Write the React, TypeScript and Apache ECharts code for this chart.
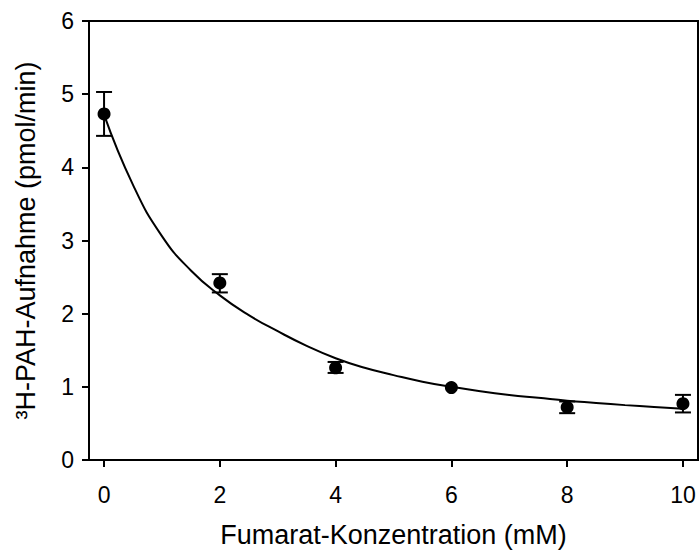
import React, { useEffect, useRef } from "react";
import * as echarts from "echarts";

// Measured data points (mean ± error)
const concX = [0, 2, 4, 6, 8, 10];
const meanY = [4.73, 2.42, 1.26, 0.99, 0.72, 0.77];
const errLow = [4.43, 2.29, 1.19, 0.99, 0.64, 0.65];
const errHigh = [5.03, 2.54, 1.34, 0.99, 0.8, 0.89];

// Fitted curve
const curveX = [0, 0.5, 1, 1.5, 2, 2.5, 3, 3.5, 4, 4.5, 5, 5.5, 6, 6.5, 7, 7.5, 8, 8.5, 9, 9.5, 10];
const curveY = [4.72, 3.76, 3.06, 2.59, 2.25, 1.98, 1.76, 1.56, 1.39, 1.26, 1.16, 1.07, 1.0, 0.94, 0.89, 0.85, 0.81, 0.78, 0.75, 0.725, 0.7];

const xTicks = [0, 2, 4, 6, 8, 10];

const FONT = "Liberation Sans, Arial, sans-serif";

export default function App() {
  const ref = useRef<HTMLDivElement>(null);

  useEffect(() => {
    if (!ref.current) return;
    const chart = echarts.init(ref.current, undefined, { renderer: "svg" });
    const option: any = {
      animation: false,
      backgroundColor: "#ffffff",
      grid: {
        left: 89,
        right: 2,
        top: 21,
        bottom: 90,
        show: true,
        borderColor: "#000",
        borderWidth: 2,
        backgroundColor: "transparent",
      },
      xAxis: {
        type: "value",
        min: -0.26,
        max: 10.26,
        name: "Fumarat-Konzentration (mM)",
        nameLocation: "middle",
        nameGap: 61,
        nameTextStyle: { fontFamily: FONT, fontSize: 27, color: "#000" },
        axisLine: { show: true, onZero: false, lineStyle: { color: "#000", width: 2 } },
        axisTick: { show: true, length: 7, lineStyle: { color: "#000", width: 2 }, customValues: xTicks },
        axisLabel: { fontFamily: FONT, fontSize: 23, color: "#000", margin: 23, customValues: xTicks },
        splitLine: { show: false },
      },
      yAxis: {
        type: "value",
        min: 0,
        max: 6,
        interval: 1,
        name: "³H-PAH-Aufnahme (pmol/min)",
        nameLocation: "middle",
        nameGap: 50,
        nameTextStyle: { fontFamily: FONT, fontSize: 27, color: "#000" },
        axisLine: { show: true, onZero: false, lineStyle: { color: "#000", width: 2 } },
        axisTick: { show: true, length: 7, lineStyle: { color: "#000", width: 2 } },
        axisLabel: { fontFamily: FONT, fontSize: 23, color: "#000", margin: 15 },
        splitLine: { show: false },
      },
      series: [
        {
          type: "line",
          data: curveX.map((x, i) => [x, curveY[i]]),
          smooth: 0.5,
          showSymbol: false,
          lineStyle: { color: "#000", width: 2 },
          z: 2,
        },
        {
          type: "custom",
          data: concX.map((x, i) => [x, errLow[i], errHigh[i]]),
          renderItem: (params: any, api: any) => {
            const x = api.value(0);
            const lo = api.value(1);
            const hi = api.value(2);
            if (hi - lo <= 0) return { type: "group", children: [] };
            const pHi = api.coord([x, hi]);
            const pLo = api.coord([x, lo]);
            const hw = 8;
            const style = { stroke: "#000", lineWidth: 2 };
            return {
              type: "group",
              children: [
                { type: "line", shape: { x1: pHi[0], y1: pHi[1], x2: pLo[0], y2: pLo[1] }, style },
                { type: "line", shape: { x1: pHi[0] - hw, y1: pHi[1], x2: pHi[0] + hw, y2: pHi[1] }, style },
                { type: "line", shape: { x1: pLo[0] - hw, y1: pLo[1], x2: pLo[0] + hw, y2: pLo[1] }, style },
              ],
            };
          },
          z: 3,
        },
        {
          type: "scatter",
          data: concX.map((x, i) => [x, meanY[i]]),
          symbol: "circle",
          symbolSize: 13,
          itemStyle: { color: "#000", opacity: 1 },
          z: 4,
        },
      ],
    };
    chart.setOption(option);
    return () => chart.dispose();
  }, []);

  return (
    <div
      ref={ref}
      style={{ position: "fixed", left: 0, top: 0, width: 700, height: 553, background: "#fff" }}
    />
  );
}
